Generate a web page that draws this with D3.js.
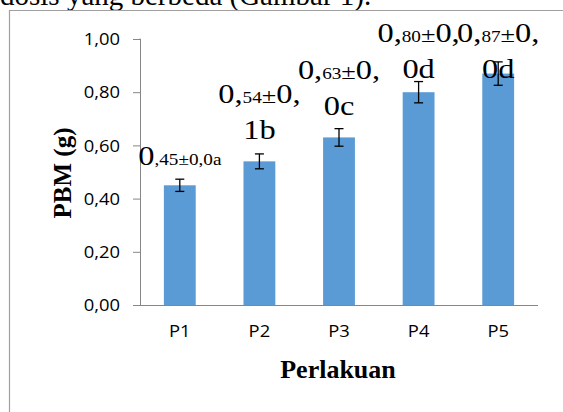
<!DOCTYPE html>
<html><head><meta charset="utf-8">
<script src="https://cdn.jsdelivr.net/npm/d3@7"></script>
<style>
html,body{margin:0;padding:0;background:#fff;}
svg{display:block;}
</style></head>
<body>
<svg id="c" width="563" height="412"></svg>
<script>
// ---- data ----
const categories = ["P1","P2","P3","P4","P5"];
const means = [0.45, 0.54, 0.63, 0.80, 0.87];
const errors = [0.023, 0.028, 0.033, 0.040, 0.044];
const labelLine1 = ["0,45±0,0a", "0,54±0,", "0,63±0,", "0,80±0,", "0,87±0,"];
const labelLine2 = ["", "1b", "0c", "0d", "0d"];
const yTicks = [0, 0.2, 0.4, 0.6, 0.8, 1.0];
const yTitle = "PBM (g)";
const xTitle = "Perlakuan";
const captionText = "dosis yang berbeda (Gambar 1).";

// ---- layout ----
const svg = d3.select("#c");
const serif = "'Liberation Serif','Times New Roman',serif";
const sans = "'Open Sans','Noto Sans',sans-serif";
const axisColor = "#868686";

// caption (clipped at top) and frame
svg.append("text").attr("x", 0).attr("y", 5)
  .attr("font-family", serif).attr("font-size", 29).attr("fill", "#000")
  .text(captionText);
svg.append("path").attr("d", "M9.5,412 V10.5 H563")
  .attr("fill", "none").attr("stroke", "#a0a0a0").attr("stroke-width", 1.2);

const x0 = 140, x1 = 538, yTop = 39, yBot = 305;
const x = d3.scaleBand().domain(categories).range([x0, x1]).paddingInner(0.6).paddingOuter(0.3);
const y = d3.scaleLinear().domain([0, 1]).range([yBot, yTop]);

// bars
svg.append("g").selectAll("rect").data(categories).join("rect")
  .attr("x", d => x(d)).attr("width", x.bandwidth())
  .attr("y", (d,i) => y(means[i])).attr("height", (d,i) => yBot - y(means[i]))
  .attr("fill", "#5B9BD5");

// error bars
const eg = svg.append("g").attr("stroke", "#000").attr("stroke-width", 1.3);
categories.forEach((c, i) => {
  const cx = x(c) + x.bandwidth()/2;
  const yt = y(means[i] + errors[i]), yb = y(means[i] - errors[i]);
  eg.append("line").attr("x1", cx).attr("x2", cx).attr("y1", yt).attr("y2", yb);
  eg.append("line").attr("x1", cx-4.5).attr("x2", cx+4.5).attr("y1", yt).attr("y2", yt);
  eg.append("line").attr("x1", cx-4.5).attr("x2", cx+4.5).attr("y1", yb).attr("y2", yb);
});

// y axis
const sx = 1.15;
const yAxis = d3.axisLeft(y).tickValues(yTicks).tickSize(7).tickPadding(8)
  .tickFormat(d => d.toFixed(2).replace(".", ","));
const gy = svg.append("g").attr("transform", `translate(${x0},0)`).call(yAxis);
gy.select(".domain").attr("stroke", axisColor).attr("d", `M-0.5,${yTop}H0.5V${yBot}`);
gy.selectAll(".tick line").attr("stroke", axisColor);
gy.selectAll(".tick text").attr("font-family", sans).attr("font-size", 16).attr("fill", "#000")
  .attr("transform", `scale(${sx},1)`).attr("x", -20 / sx).attr("dy", "0.36em");

// x axis
const xAxis = d3.axisBottom(x).tickSize(0).tickPadding(21);
const gx = svg.append("g").attr("transform", `translate(0,${yBot})`).call(xAxis);
gx.select(".domain").attr("stroke", axisColor).attr("d", `M133,0.5H${x1}`);
gx.selectAll(".tick text").attr("font-family", sans).attr("font-size", 16).attr("fill", "#000")
  .attr("transform", `scale(${sx},1)`);

// titles
svg.append("text").attr("transform", `translate(71,173) rotate(-90)`)
  .attr("text-anchor", "middle").attr("font-family", serif).attr("font-weight", "bold")
  .attr("font-size", 25).attr("fill", "#000").text(yTitle);
svg.append("text").attr("x", 338).attr("y", 378)
  .attr("text-anchor", "middle").attr("font-family", serif).attr("font-weight", "bold")
  .attr("font-size", 26).attr("fill", "#000").text(xTitle);

// data labels (mixed-size runs)
const big = 27, small = 16, pm = 22;
function runs(s, single) {
  const out = [];
  if (single) {
    out.push([s[0], big]);
    out.push([s.slice(1), small]);
  } else {
    out.push([s.slice(0, 2), big]);
    out.push([s.slice(2, 4), small]);
    out.push([s[4], pm]);
    out.push([s.slice(5), big]);
  }
  return out;
}
const lg = svg.append("g").attr("font-family", serif).attr("fill", "#000");
categories.forEach((c, i) => {
  const cx = x(c) + x.bandwidth()/2;
  const single = labelLine2[i] === "";
  const topY = y(means[i]);
  let b1, b2;
  if (single) { b1 = topY - 20; }
  else { b2 = Math.max(topY - 22, 78); b1 = b2 - 36; }
  const t = lg.append("text").attr("text-anchor", "middle")
    .attr("transform", `translate(${cx},${b1}) scale(1.2,1)`);
  runs(labelLine1[i], single).forEach(r => t.append("tspan").attr("font-size", r[1]).text(r[0]));
  if (!single) {
    lg.append("text").attr("text-anchor", "middle").attr("font-size", big)
      .attr("transform", `translate(${cx},${b2}) scale(1.2,1)`).text(labelLine2[i]);
  }
});
</script>
</body></html>
